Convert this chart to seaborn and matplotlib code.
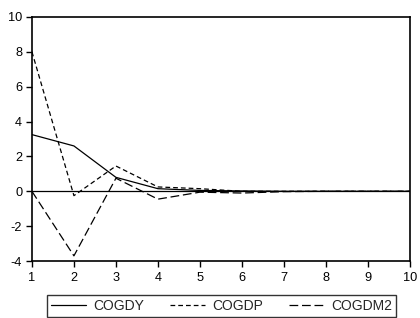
import pandas as pd
import seaborn as sns
import matplotlib
matplotlib.use('Agg')
import matplotlib.pyplot as plt

# impulse response values
periods = [1, 2, 3, 4, 5, 6, 7, 8, 9, 10]
cogdy = [3.25, 2.6, 0.8, 0.15, 0.05, 0.02, 0.0, 0.0, 0.0, 0.0]
cogdp = [8.0, -0.25, 1.45, 0.25, 0.15, 0.0, 0.0, 0.0, 0.0, 0.0]
cogdm2 = [0.0, -3.7, 0.75, -0.45, -0.05, -0.1, -0.02, 0.0, 0.0, 0.0]

df = pd.DataFrame({'period': periods, 'COGDY': cogdy, 'COGDP': cogdp, 'COGDM2': cogdm2})
long_df = df.melt(id_vars='period', var_name='series', value_name='value')

sns.set_style('white')
plt.rcParams['font.family'] = ['Liberation Sans', 'DejaVu Sans']
plt.rcParams['axes.unicode_minus'] = False

fig = plt.figure(figsize=(4.2, 3.18), dpi=100)
ax = fig.add_axes([0.076, 0.179, 0.900, 0.768])

styles = {'COGDY': None, 'COGDP': [3.8, 2.4], 'COGDM2': [7, 3]}
for name, dash in styles.items():
    sub = long_df[long_df['series'] == name]
    sns.lineplot(x='period', y='value', data=sub, ax=ax, color='black',
                 linewidth=0.9, label=name)
    if dash is not None:
        ax.lines[-1].set_dashes(dash)

ax.axhline(0, color='black', linewidth=0.9)
ax.set_xlim(1, 10)
ax.set_ylim(-4, 10)
ax.set_xticks(periods)
ax.set_yticks([-4, -2, 0, 2, 4, 6, 8, 10])
ax.set_xlabel('')
ax.set_ylabel('')
for s in ax.spines.values():
    s.set_color('black')
    s.set_linewidth(1.2)
ax.tick_params(direction='out', length=4, width=1, colors='black', labelsize=9.2, pad=3,
               left=True, bottom=True)
ax.tick_params(axis='x', pad=4)

ax.legend(loc='lower left', bbox_to_anchor=(47 / 420, 1 / 318, 349 / 420, 22 / 318),
          bbox_transform=fig.transFigure, mode='expand',
          ncol=3, frameon=True, fancybox=False, edgecolor='black', fontsize=10,
          handlelength=2.5, columnspacing=1.3, handletextpad=0.5, borderpad=0.3,
          borderaxespad=0)

fig.savefig('out.png', dpi=100)
